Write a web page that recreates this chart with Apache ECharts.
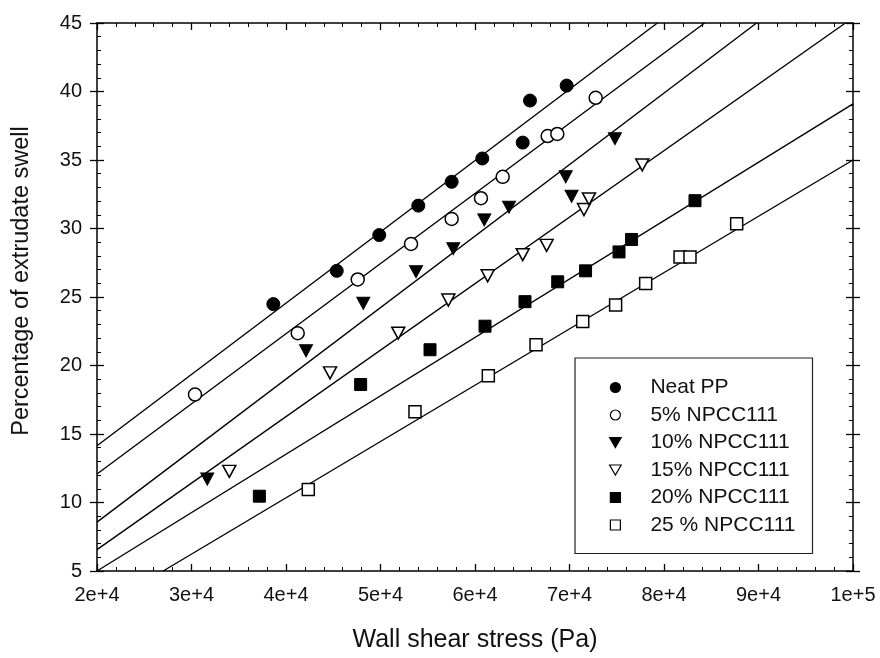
<!DOCTYPE html>
<html>
<head>
<meta charset="utf-8">
<script src="https://cdn.jsdelivr.net/npm/echarts@6/dist/echarts.min.js"></script>
<style>
  html, body { margin: 0; padding: 0; background: #fff; }
  #chart { width: 880px; height: 658px; }
</style>
</head>
<body>
<div id="chart"></div>
<script>
// ---- Data ----
const seriesNames = ['Neat PP', '5% NPCC111', '10% NPCC111', '15% NPCC111', '20% NPCC111', '25 % NPCC111'];

const neatX = [38660, 45370, 49870, 54000, 57530, 60770, 65050, 65820, 69700];
const neatY = [24.48, 26.91, 29.52, 31.67, 33.41, 35.11, 36.27, 39.34, 40.43];

const p5X = [30370, 41240, 47590, 53230, 57530, 60630, 62930, 67690, 68710, 72770];
const p5Y = [17.88, 22.36, 26.28, 28.87, 30.70, 32.21, 33.77, 36.75, 36.90, 39.54];

const p10X = [31670, 42120, 48180, 53760, 57700, 60980, 63600, 69600, 70220, 74810];
const p10Y = [11.71, 21.07, 24.54, 26.84, 28.53, 30.63, 31.55, 33.77, 32.35, 36.56];

const p15X = [34000, 44660, 51880, 57180, 61340, 65050, 67580, 71530, 72060, 77700];
const p15Y = [12.27, 19.46, 22.36, 24.78, 26.55, 28.09, 28.77, 31.38, 32.16, 34.64];

const p20X = [37180, 47900, 55240, 61060, 65290, 68750, 71700, 75240, 76570, 83280];
const p20Y = [10.46, 18.61, 21.15, 22.87, 24.66, 26.11, 26.91, 28.29, 29.20, 32.03];

const p25X = [42360, 53650, 61410, 66460, 71400, 74880, 78060, 81700, 82750, 87690];
const p25Y = [10.94, 16.63, 19.26, 21.51, 23.21, 24.41, 25.99, 27.92, 27.92, 30.34];

// fitted straight lines: start and end points
const fitX0 = [20000, 20000, 20000, 20000, 20000, 27000];
const fitY0 = [14.14, 12.08, 8.57, 6.56, 5.0, 5.0];
const fitX1 = [79300, 84300, 89800, 99200, 100000, 100000];
const fitY1 = [45, 45, 45, 45, 39.1, 35.0];

// axis ranges / ticks
const xMin = 20000, xMax = 100000, xStep = 10000;
const yMin = 5, yMax = 45, yStep = 5;

// ---- Build chart ----
const FONT = 'Liberation Sans, Arial, sans-serif';
const downTri = 'path://M0,0L20,0L10,17.3Z';
const square = 'path://M0,0L10,0L10,10L0,10Z';

const allX = [neatX, p5X, p10X, p15X, p20X, p25X];
const allY = [neatY, p5Y, p10Y, p15Y, p20Y, p25Y];
const symbols = ['circle', 'circle', downTri, downTri, square, square];
const filled = [true, false, true, false, true, false];
const sizes = [13, 13, [13, 12], [13, 12], 12, 12];

function expLabel(v) {
  const e = Math.floor(Math.log10(v) + 1e-9);
  const m = Math.round(v / Math.pow(10, e) * 100) / 100;
  return m + 'e+' + e;
}

const series = [];
for (let i = 0; i < 6; i++) {
  series.push({
    name: 'fit' + i,
    type: 'line',
    data: [[fitX0[i], fitY0[i]], [fitX1[i], fitY1[i]]],
    symbol: 'none',
    showSymbol: false,
    silent: true,
    z: 1,
    lineStyle: { color: '#000', width: 1.4 }
  });
}
for (let i = 0; i < 6; i++) {
  series.push({
    name: seriesNames[i],
    type: 'scatter',
    data: allX[i].map((x, j) => [x, allY[i][j]]),
    symbol: symbols[i],
    symbolSize: sizes[i],
    z: 3,
    itemStyle: filled[i]
      ? { color: '#000', borderColor: '#000', borderWidth: 1, opacity: 1 }
      : { color: '#fff', borderColor: '#000', borderWidth: 1.5, opacity: 1 }
  });
}

const axisLineStyle = { color: '#000', width: 1.5 };
const tickStyle = { color: '#000', width: 1.3 };
const minorStyle = { color: '#000', width: 1 };

const baseX = {
  type: 'value', min: xMin, max: xMax, interval: xStep,
  splitLine: { show: false },
  axisLine: { show: true, lineStyle: axisLineStyle },
  axisTick: { show: true, inside: true, length: 7, lineStyle: tickStyle },
  minorTick: { show: true, splitNumber: 5, length: 4, lineStyle: minorStyle },
  minorSplitLine: { show: false }
};
const baseY = {
  type: 'value', min: yMin, max: yMax, interval: yStep,
  splitLine: { show: false },
  axisLine: { show: true, lineStyle: axisLineStyle },
  axisTick: { show: true, inside: true, length: 7, lineStyle: tickStyle },
  minorTick: { show: true, splitNumber: 5, length: 4, lineStyle: minorStyle },
  minorSplitLine: { show: false }
};
const outerY = {
  type: 'value', min: yMin, max: yMax, interval: yStep,
  splitLine: { show: false },
  axisLine: { show: false },
  axisLabel: { show: false },
  axisTick: { show: true, inside: false, length: 7, lineStyle: tickStyle },
  minorTick: { show: false }
};

const option = {
  animation: false,
  backgroundColor: '#fff',
  grid: { left: 97, right: 27, top: 23, bottom: 84, containLabel: false },
  legend: {
    data: seriesNames,
    orient: 'vertical',
    left: 575, top: 358,
    itemWidth: 60, itemHeight: 10, itemGap: 6.5,
    padding: [19, 17, 18, 34],
    borderColor: '#222', borderWidth: 1.2,
    backgroundColor: '#fff',
    selectedMode: false,
    itemStyle: { borderWidth: 1.2, opacity: 1 },
    textStyle: { fontSize: 21, fontFamily: FONT, color: '#111' }
  },
  xAxis: [
    Object.assign({}, baseX, {
      position: 'bottom',
      axisLabel: { formatter: expLabel, fontSize: 20, margin: 14, color: '#111', fontFamily: FONT },
      name: 'Wall shear stress (Pa)', nameLocation: 'middle', nameGap: 57,
      nameTextStyle: { fontSize: 25, fontFamily: FONT, color: '#111' }
    }),
    Object.assign({}, baseX, { position: 'top', axisLabel: { show: false } })
  ],
  yAxis: [
    Object.assign({}, baseY, {
      position: 'left',
      axisLabel: { fontSize: 20, margin: 15, color: '#111', fontFamily: FONT },
      name: 'Percentage of extrudate swell', nameLocation: 'middle', nameGap: 63, nameRotate: 90,
      nameTextStyle: { fontSize: 23.5, fontFamily: FONT, color: '#111', padding: [0, 0, 0, 32] }
    }),
    Object.assign({}, baseY, { position: 'right', axisLabel: { show: false } }),
    Object.assign({}, outerY, { position: 'left' }),
    Object.assign({}, outerY, { position: 'right' })
  ],
  series: series
};

const chart = echarts.init(document.getElementById('chart'), null, { renderer: 'canvas' });
chart.setOption(option);
</script>
</body>
</html>
